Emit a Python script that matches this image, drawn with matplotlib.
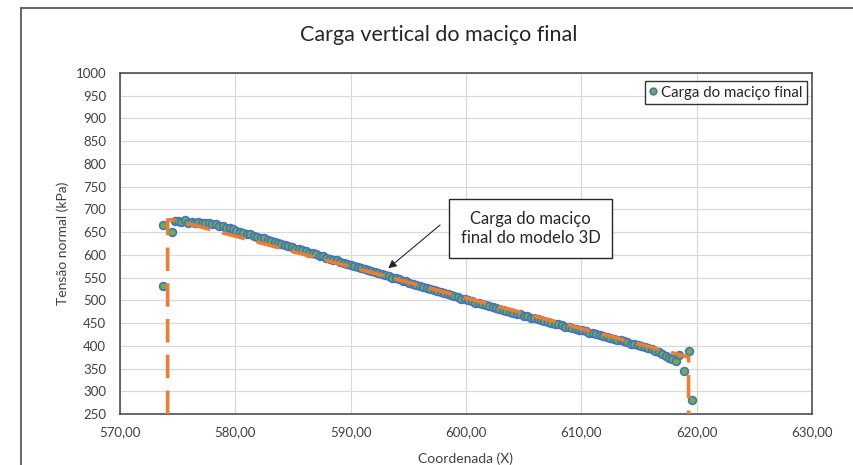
import matplotlib
matplotlib.use("Agg")
import matplotlib.pyplot as plt
from matplotlib.lines import Line2D
from matplotlib.ticker import FuncFormatter

plt.rcParams['font.family'] = ['Lato', 'DejaVu Sans']

# ---- data ----
coord_x = [573.7, 573.75, 574.47, 574.77,
           575.0, 575.3, 575.6, 575.9, 576.2, 576.5, 576.8, 577.1, 577.4, 577.7,
           578.0, 578.3, 578.6, 578.9, 579.2, 579.5, 579.8, 580.1, 580.4, 580.7,
           581.0, 581.3, 581.6, 581.9, 582.2, 582.5, 582.8, 583.1, 583.4, 583.7,
           584.0, 584.3, 584.6, 584.9, 585.2, 585.5, 585.8, 586.1, 586.4, 586.7,
           587.0, 587.3, 587.6, 587.9, 588.2, 588.5, 588.8, 589.1, 589.4, 589.7,
           590.0, 590.3, 590.6, 590.9, 591.2, 591.5, 591.8, 592.1, 592.4, 592.7,
           593.0, 593.3, 593.6, 593.9, 594.2, 594.5, 594.8, 595.1, 595.4, 595.7,
           596.0, 596.3, 596.6, 596.9, 597.2, 597.5, 597.8, 598.1, 598.4, 598.7,
           599.0, 599.3, 599.6, 599.9, 600.2, 600.5, 600.8, 601.1, 601.4, 601.7,
           602.0, 602.3, 602.6, 602.9, 603.2, 603.5, 603.8, 604.1, 604.4, 604.7,
           605.0, 605.3, 605.6, 605.9, 606.2, 606.5, 606.8, 607.1, 607.4, 607.7,
           608.0, 608.3, 608.6, 608.9, 609.2, 609.5, 609.8, 610.1, 610.4, 610.7,
           611.0, 611.3, 611.6, 611.9, 612.2, 612.5, 612.8, 613.1, 613.4, 613.7,
           614.0, 614.3, 614.6, 614.9, 615.2, 615.5, 615.8, 616.1, 616.4, 616.7,
           617.0, 617.3, 617.6, 617.9, 618.2, 618.5, 619.3, 618.9, 619.6]
tensao = [532, 666, 651, 675,
          675, 673, 676, 671, 672, 670, 673, 669, 671, 670,
          668, 667, 664, 663, 660, 658, 656, 653, 651, 649,
          646, 645, 642, 640, 637, 636, 633, 630, 629, 626,
          624, 621, 620, 617, 614, 613, 610, 608, 605, 604,
          601, 598, 597, 594, 592, 589, 588, 585, 582, 581,
          578, 576, 573, 572, 569, 566, 565, 562, 560, 557,
          555, 553, 550, 549, 546, 543, 542, 539, 537, 534,
          532, 530, 527, 526, 523, 520, 519, 516, 514, 511,
          509, 507, 504, 503, 500, 498, 495, 494, 491, 490,
          487, 485, 483, 481, 479, 476, 475, 473, 470, 469,
          466, 465, 462, 461, 459, 456, 455, 453, 451, 448,
          447, 445, 442, 441, 439, 437, 435, 434, 432, 429,
          428, 426, 424, 421, 420, 418, 416, 413, 412, 410,
          408, 405, 404, 402, 400, 397, 396, 393, 389, 386,
          382, 378, 374, 371, 367, 380, 388, 345, 280]

modelo_x = [574.13, 574.13, 574.7, 619.3, 619.3]
modelo_y = [250, 677, 677, 375, 250]

x_ticks = [570, 580, 590, 600, 610, 620, 630]
y_ticks = [250, 300, 350, 400, 450, 500, 550, 600, 650, 700, 750, 800, 850, 900, 950, 1000]

# ---- figure ----
fig = plt.figure(figsize=(8.54, 4.65), dpi=100)
ax = fig.add_axes([120/854, 1-414/465, (812-120)/854, (414-73)/465])

# outer chart frame
fig.add_artist(Line2D([21/854, 21/854], [0, 1-8/465], transform=fig.transFigure,
                      color='#595959', lw=1.3))
fig.add_artist(Line2D([21/854, 1], [1-8/465, 1-8/465], transform=fig.transFigure,
                      color='#595959', lw=1.3))

ax.plot(modelo_x, modelo_y, color='#ED7D31', lw=2.6, dashes=(6.5, 3.4),
        zorder=4, solid_capstyle='butt')
ax.plot(coord_x, tensao, linestyle='none', marker='o', markersize=5.6,
        markerfacecolor='#70AD47', markeredgecolor='#4472C4', markeredgewidth=1.2,
        zorder=3, label='Carga do maciço final')

ax.set_xlim(570, 630)
ax.set_ylim(250, 1000)
ax.set_xticks(x_ticks)
ax.set_yticks(y_ticks)
ax.xaxis.set_major_formatter(FuncFormatter(lambda v, p: f"{v:.2f}".replace('.', ',')))
ax.grid(True, color='#D9D9D9', lw=0.9)
ax.set_axisbelow(True)
for s in ax.spines.values():
    s.set_color('#404040')
    s.set_linewidth(1.1)
ax.tick_params(axis='both', length=0, labelsize=9.5, colors='#404040')
ax.tick_params(axis='y', pad=10)
ax.tick_params(axis='x', pad=9)

ax.set_xlabel('Coordenada (X)', fontsize=10, color='#404040', labelpad=10)
ax.set_ylabel('Tensão normal (kPa)', fontsize=10, color='#404040', labelpad=5)

fig.text(439/854, 1-35/465, 'Carga vertical do maciço final', ha='center', va='center',
         fontsize=15.5, color='#262626')

leg = ax.legend(loc='upper right', bbox_to_anchor=(0.997, 0.985), fontsize=10.8,
                frameon=True, fancybox=False, handlelength=0.5, handletextpad=0.25,
                borderpad=0.3, borderaxespad=0.2, markerscale=0.85)
leg.get_frame().set_edgecolor('black')
leg.get_frame().set_linewidth(1.0)
for t in leg.get_texts():
    t.set_color('#262626')

# annotation box and arrow
ax.annotate('', xy=(593.26, 570.4), xytext=(597.75, 665.7),
            arrowprops=dict(arrowstyle='-|>', color='#262626', lw=0.8,
                            mutation_scale=12, shrinkA=0, shrinkB=0), zorder=6)
ax.text(605.6, 658, 'Carga do maciço\nfinal do modelo 3D', ha='center', va='center',
        fontsize=12, color='#262626', linespacing=1.3, zorder=7,
        bbox=dict(boxstyle='square,pad=0.72', facecolor='white', edgecolor='#262626', lw=1.0))

fig.savefig('out.png', dpi=100)
